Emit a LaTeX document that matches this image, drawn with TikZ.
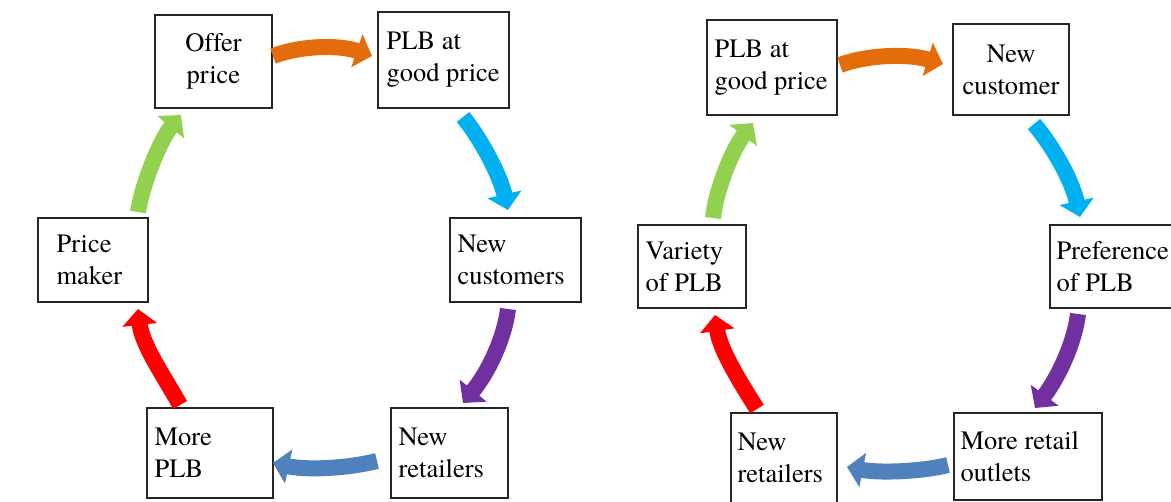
\documentclass[tikz,border=0pt]{standalone}
\usepackage{fontspec}
\setmainfont{TeX Gyre Termes}
\newfontfamily\tnrfont[Ligatures=NoCommon]{TeX Gyre Termes}
\usetikzlibrary{arrows.meta}
\definecolor{corange}{RGB}{228,108,10}
\definecolor{ccyan}{RGB}{0,176,240}
\definecolor{cpurple}{RGB}{112,48,160}
\definecolor{csteel}{RGB}{79,129,189}
\definecolor{cred}{RGB}{255,0,0}
\definecolor{cgreen}{RGB}{146,208,80}
\begin{document}
\begin{tikzpicture}[x=1pt,y=-1pt,
  box/.style={draw=black!85, line width=1.3pt, rectangle, inner sep=0pt},
  txt/.style={inner sep=0pt, font=\tnrfont\fontsize{26.5pt}{32pt}\selectfont},
  arr/.style={line width=16pt, -{Triangle[width=34pt,length=16pt]}}]
\clip (0,0) rectangle (1171,502);
\fill[white] (0,0) rectangle (1171,502);

% ---------- left cycle: boxes ----------
\node[box, minimum width=117pt, minimum height=93pt] (op)   at (213.5,61.5) {};
\node[box, minimum width=131pt, minimum height=96pt] (plbL) at (443.5,60) {};
\node[box, minimum width=131pt, minimum height=84pt] (ncL)  at (515.5,260) {};
\node[box, minimum width=117pt, minimum height=90pt] (nrL)  at (449.5,453) {};
\node[box, minimum width=126pt, minimum height=90pt] (mp)   at (210,453) {};
\node[box, minimum width=110pt, minimum height=84pt] (pm)   at (93,260) {};

\node[txt, align=center] (opt) at (op.center) {Offer\\price};
\node[txt, align=left, anchor=west] (plbLt) at ([xshift=9pt]plbL.west) {PLB at\\good price};
\node[txt, align=left, anchor=west] (ncLt) at ([xshift=8pt]ncL.west) {New\\customers};
\node[txt, align=left, anchor=west] (nrLt) at ([xshift=8pt]nrL.west) {New\\retailers};
\node[txt, align=left, anchor=west] (mpt) at ([xshift=8pt]mp.west) {More\\PLB};
\node[txt, align=left, anchor=west] (pmt) at ([xshift=19pt]pm.west) {Price\\maker};

% ---------- right cycle: boxes ----------
\node[box, minimum width=130pt, minimum height=95pt] (plbR) at (772,67.5) {};
\node[box, minimum width=116pt, minimum height=91pt] (ncR)  at (1011,69.5) {};
\node[box, minimum width=135pt, minimum height=83pt] (pref) at (1117.5,266.5) {};
\node[box, minimum width=148pt, minimum height=87pt] (mro)  at (1028,456.5) {};
\node[box, minimum width=106pt, minimum height=90pt] (nrR)  at (784,458) {};
\node[box, minimum width=108pt, minimum height=83pt] (var)  at (692,266.5) {};

\node[txt, align=left, anchor=west] (plbRt) at ([xshift=8pt]plbR.west) {PLB at\\good price};
\node[txt, align=center] (ncRt) at (ncR.center) {New\\customer};
\node[txt, align=left, anchor=west] (preft) at ([xshift=7pt]pref.west) {Preference\\of PLB};
\node[txt, align=left, anchor=west] (mrot) at ([xshift=7pt]mro.west) {More retail\\outlets};
\node[txt, align=left, anchor=west] (nrRt) at ([xshift=7pt]nrR.west) {New\\retailers};
\node[txt, align=left, anchor=west] (vart) at ([xshift=8pt]var.west) {Variety\\of PLB};

% ---------- arrow end points ----------
\coordinate (l1s) at (273,56);   \coordinate (l1e) at (372,56);
\coordinate (l2s) at (463,117);  \coordinate (l2e) at (508,210);
\coordinate (l3s) at (508,309);  \coordinate (l3e) at (463,403);
\coordinate (l4s) at (377,461);  \coordinate (l4e) at (273,463);
\coordinate (l5s) at (180,405);  \coordinate (l5e) at (138,309);
\coordinate (l6s) at (138,212);  \coordinate (l6e) at (181,115);

\coordinate (r1s) at (840,65);   \coordinate (r1e) at (943,64);
\coordinate (r2s) at (1034,124); \coordinate (r2e) at (1080,217);
\coordinate (r3s) at (1078,314); \coordinate (r3e) at (1035,408);
\coordinate (r4s) at (948,465);  \coordinate (r4e) at (847,467);
\coordinate (r5s) at (757,409);  \coordinate (r5e) at (715,315);
\coordinate (r6s) at (713,218);  \coordinate (r6e) at (753,123);

% ---------- left cycle: arrows ----------
\draw[arr, corange] (l1s) .. controls (303,45) and (340,45) .. (l1e);
\draw[arr, ccyan]   (l2s) .. controls (481,139) and (500,175) .. (l2e);
\draw[arr, cpurple] (l3s) .. controls (505,335) and (490,370) .. (l3e);
\draw[arr, csteel]  (l4s) .. controls (345,469) and (305,470) .. (l4e);
\draw[arr, cred]    (l5s) .. controls (165,378) and (142,345) .. (l5e);
\draw[arr, cgreen]  (l6s) .. controls (142,185) and (160,140) .. (l6e);

% ---------- right cycle: arrows ----------
\draw[arr, corange] (r1s) .. controls (870,54) and (910,54) .. (r1e);
\draw[arr, ccyan]   (r2s) .. controls (1052,145) and (1072,180) .. (r2e);
\draw[arr, cpurple] (r3s) .. controls (1075,340) and (1060,375) .. (r3e);
\draw[arr, csteel]  (r4s) .. controls (920,472) and (878,473) .. (r4e);
\draw[arr, cred]    (r5s) .. controls (740,382) and (720,350) .. (r5e);
\draw[arr, cgreen]  (r6s) .. controls (716,190) and (732,150) .. (r6e);
\end{tikzpicture}
\end{document}
